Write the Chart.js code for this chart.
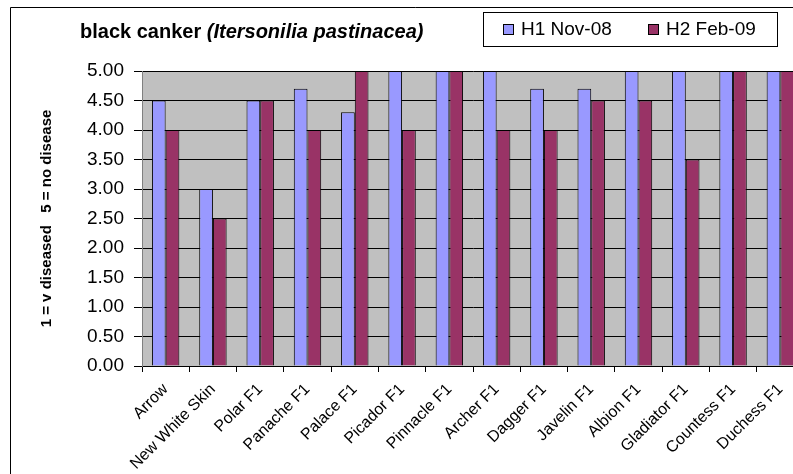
<!DOCTYPE html>
<html>
<head>
<meta charset="utf-8">
<script src="https://cdn.jsdelivr.net/npm/chart.js@4/dist/chart.umd.min.js"></script>
<style>
  html, body { margin: 0; padding: 0; background: #fff; overflow: hidden; }
  #wrap { width: 820px; height: 474px; }
</style>
</head>
<body>
<div id="wrap"><canvas id="chart" width="820" height="474"></canvas></div>
<script>
// varieties and scores
const varieties = ["Arrow", "New White Skin", "Polar F1", "Panache F1", "Palace F1", "Picador F1",
    "Pinnacle F1", "Archer F1", "Dagger F1", "Javelin F1", "Albion F1", "Gladiator F1",
    "Countess F1", "Duchess F1"];
const h1Nov08 = [4.5, 3.0, 4.5, 4.7, 4.3, 5.0, 5.0, 5.0, 4.7, 4.7, 5.0, 5.0, 5.0, 5.0];
const h2Feb09 = [4.0, 2.5, 4.5, 4.0, 5.0, 4.0, 5.0, 4.0, 4.0, 4.5, 4.5, 3.5, 5.0, 5.0];
const seriesNames = ["H1 Nov-08", "H2 Feb-09"];
const titleMain = "black canker ";
const titleLatin = "(Itersonilia pastinacea)";
const yTitle = "1 = v diseased   5 = no disease";

const FONT = "'Liberation Sans', Arial, sans-serif";

// grey plot area, outer frame, title and the boxed legend
const decorations = {
    id: "decorations",
    beforeDraw(chart) {
        const ctx = chart.ctx;
        const a = chart.chartArea;
        ctx.save();
        ctx.fillStyle = "#C0C0C0";
        ctx.fillRect(a.left, a.top, a.right - a.left, a.bottom - a.top);

        // outer chart border (only top and left are inside the picture)
        ctx.strokeStyle = "#000";
        ctx.lineWidth = 1;
        ctx.beginPath();
        ctx.moveTo(10.5, chart.height + 5);
        ctx.lineTo(10.5, 7.5);
        ctx.lineTo(chart.width + 5, 7.5);
        ctx.stroke();
        ctx.restore();
    },
    afterDraw(chart) {
        const ctx = chart.ctx;
        ctx.save();
        // title with italic latin name
        ctx.fillStyle = "#000";
        ctx.textBaseline = "middle";
        ctx.font = "bold 20px " + FONT;
        ctx.fillText(titleMain, 80, 32);
        const w = ctx.measureText(titleMain).width;
        ctx.font = "italic bold 20px " + FONT;
        ctx.fillText(titleLatin, 80 + w, 32);

        // legend box
        ctx.fillStyle = "#fff";
        ctx.fillRect(483, 12, 294, 34);
        ctx.strokeStyle = "#000";
        ctx.lineWidth = 1;
        ctx.strokeRect(483.5, 12.5, 294, 34);
        const xs = [503, 648];
        ctx.font = "19px " + FONT;
        chart.data.datasets.forEach((ds, i) => {
            ctx.fillStyle = ds.backgroundColor;
            ctx.fillRect(xs[i], 24, 10, 10);
            ctx.strokeRect(xs[i] + 0.5, 24.5, 10, 10);
            ctx.fillStyle = "#000";
            ctx.fillText(ds.label, xs[i] + 18, 30);
        });
        ctx.restore();
    }
};

new Chart(document.getElementById("chart"), {
    type: "bar",
    data: {
        labels: varieties,
        datasets: [
            { label: seriesNames[0], data: h1Nov08, backgroundColor: "#9999FF", borderColor: "#000", borderWidth: 1 },
            { label: seriesNames[1], data: h2Feb09, backgroundColor: "#993366", borderColor: "#000", borderWidth: 1 }
        ]
    },
    options: {
        responsive: false,
        animation: false,
        devicePixelRatio: 1,
        layout: { padding: { left: 0, top: 71, right: 16, bottom: 0 } },
        datasets: { bar: { categoryPercentage: 0.58, barPercentage: 1 } },
        plugins: { legend: { display: false }, title: { display: false }, tooltip: { enabled: false } },
        scales: {
            x: {
                grid: { display: true, drawOnChartArea: false, offset: true, color: "#000", tickLength: 6 },
                border: { color: "#000" },
                ticks: { color: "#000", font: { family: FONT, size: 16 }, maxRotation: 45, minRotation: 45, autoSkip: false, padding: 8 },
                afterFit(scale) { scale.height = 108; }
            },
            y: {
                min: 0,
                max: 5,
                ticks: { stepSize: 0.5, color: "#000", font: { family: FONT, size: 19 }, padding: 10,
                    callback: v => v.toFixed(2) },
                grid: { color: "#000", tickLength: 8 },
                border: { color: "#808080" },
                title: { display: true, text: yTitle, color: "#000", font: { family: FONT, size: 15, weight: "bold" },
                    padding: { top: 38, bottom: 0 } },
                afterFit(scale) { scale.width = 142; }
            }
        }
    },
    plugins: [decorations]
});
</script>
</body>
</html>
